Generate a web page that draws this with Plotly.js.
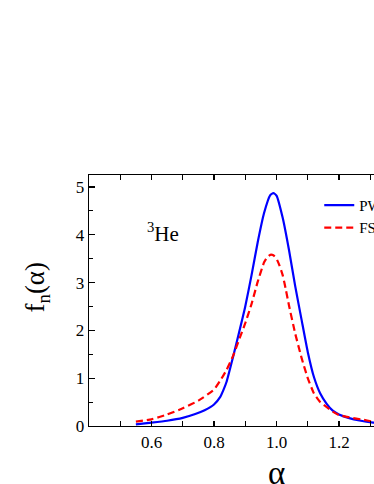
<!DOCTYPE html>
<html>
<head>
<meta charset="utf-8">
<script src="https://cdn.plot.ly/plotly-3.0.1.min.js"></script>
<style>
  html, body { margin: 0; padding: 0; overflow: hidden; background: #fff; }
  #myPlot { width: 480px; height: 484px; }
</style>
</head>
<body>
<div id="myPlot"></div>
<script>
// alpha values
var alphaPW = [0.55, 0.60, 0.65, 0.70, 0.74, 0.77, 0.80, 0.82, 0.83, 0.84, 0.86, 0.88, 0.90, 0.92, 0.94, 0.96, 0.98, 0.99,
               1.00, 1.02, 1.04, 1.06, 1.08, 1.10, 1.12, 1.14, 1.16, 1.18, 1.20, 1.23, 1.27, 1.31, 1.34];
var fPW    = [0.035, 0.07, 0.11, 0.17, 0.25, 0.33, 0.45, 0.61, 0.75, 0.92, 1.42, 1.95, 2.50, 3.15, 3.85, 4.45, 4.83, 4.87,
              4.82, 4.35, 3.68, 2.92, 2.23, 1.55, 1.02, 0.68, 0.47, 0.32, 0.24, 0.17, 0.11, 0.07, 0.05];

var alphaFS = [0.55, 0.60, 0.65, 0.70, 0.75, 0.80, 0.82, 0.84, 0.86, 0.88, 0.90, 0.92, 0.94, 0.96, 0.97, 0.98, 0.99,
               1.00, 1.01, 1.02, 1.03, 1.04, 1.06, 1.08, 1.10, 1.12, 1.14, 1.16, 1.18, 1.20, 1.24, 1.27, 1.31, 1.34];
var fFS    = [0.09, 0.14, 0.24, 0.37, 0.53, 0.76, 0.95, 1.17, 1.45, 1.80, 2.15, 2.55, 3.02, 3.42, 3.53, 3.58, 3.57,
              3.50, 3.35, 3.15, 2.85, 2.52, 1.93, 1.43, 1.00, 0.68, 0.50, 0.40, 0.30, 0.23, 0.17, 0.14, 0.09, 0.06];

var seriesNames = ["PWIA", "FSI"];
var xTickVals = [0.6, 0.8, 1.0, 1.2, 1.4];
var xTickText = ["0.6", "0.8", "1.0", "1.2", "1.4"];
var yTickVals = [0, 1, 2, 3, 4, 5];

var serif = "Times New Roman, Liberation Serif, DejaVu Serif, serif";

var data = [
  {x: alphaPW, y: fPW, mode: "lines", name: seriesNames[0],
   line: {color: "#0000ff", width: 2.2, shape: "spline", smoothing: 0.5}},
  {x: alphaFS, y: fFS, mode: "lines", name: seriesNames[1],
   line: {color: "#ff0000", width: 2.2, dash: "7px,4px", shape: "spline", smoothing: 0.4}}
];

var layout = {
  width: 480, height: 484,
  margin: {l: 89, r: 16, t: 175, b: 58},
  paper_bgcolor: "#fff", plot_bgcolor: "#fff",
  font: {family: serif, size: 17, color: "#000"},
  showlegend: true,
  legend: {x: 0.614, y: 0.945, xanchor: "left", yanchor: "top",
           bgcolor: "rgba(0,0,0,0)", font: {family: serif, size: 15}, tracegroupgap: 0},
  xaxis: {
    range: [0.4, 1.6], tickmode: "array", tickvals: xTickVals, ticktext: xTickText,
    ticks: "inside", ticklen: 5, tickwidth: 1.2, tickcolor: "#000",
    minor: {tickmode: "linear", tick0: 0.4, dtick: 0.1, ticks: "inside", ticklen: 5, tickwidth: 1.2, tickcolor: "#000"},
    showline: true, linecolor: "#000", linewidth: 1.3, mirror: "ticks",
    showgrid: false, zeroline: false,
    tickfont: {family: serif, size: 17}
  },
  yaxis: {
    range: [0, 5.25], tickmode: "array", tickvals: yTickVals,
    ticks: "inside", ticklen: 6, tickwidth: 1.2, tickcolor: "#000",
    minor: {tickmode: "linear", tick0: 0, dtick: 0.5, ticks: "inside", ticklen: 3.5, tickwidth: 1.2, tickcolor: "#000"},
    showline: true, linecolor: "#000", linewidth: 1.3, mirror: false,
    showgrid: false, zeroline: false,
    tickfont: {family: serif, size: 17}
  },
  annotations: [
    {x: 0.638, y: 4.05, xref: "x", yref: "y", text: "<sup>3</sup>He", showarrow: false,
     font: {family: serif, size: 21}},
    // axis titles as annotations so they sit where the picture has them
    {x: -0.139, y: 0.555, xref: "paper", yref: "paper", text: "f<sub>n</sub>(α)", textangle: -90,
     showarrow: false, xanchor: "center", yanchor: "middle", font: {family: serif, size: 27}},
    {x: 0.5, y: -0.188, xref: "paper", yref: "paper", text: "α",
     showarrow: false, xanchor: "center", yanchor: "middle", font: {family: serif, size: 33}}
  ]
};

Plotly.newPlot("myPlot", data, layout, {displayModeBar: false, staticPlot: true});
</script>
</body>
</html>
